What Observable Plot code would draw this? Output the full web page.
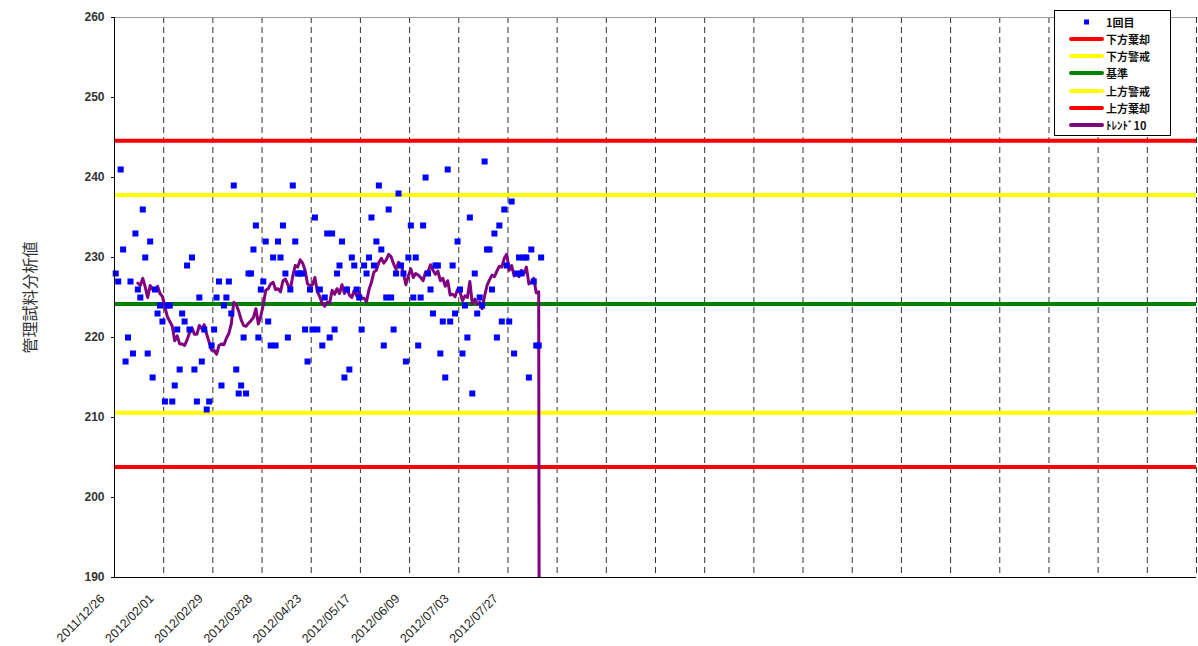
<!DOCTYPE html>
<html><head><meta charset="utf-8">
<script src="https://cdn.jsdelivr.net/npm/d3@7"></script>
<script src="https://cdn.jsdelivr.net/npm/@observablehq/plot@0.6"></script>
<style>
body{margin:0;background:#fff;font-family:"Liberation Sans","Noto Sans CJK JP",sans-serif;}
#wrap{position:relative;width:1198px;height:646px;overflow:hidden;}
#legend{position:absolute;left:1054px;top:10px;width:117px;height:126px;border:1px solid #000;background:#fff;box-sizing:border-box;}
.row{position:absolute;left:0;height:17px;display:flex;align-items:center;font-size:11px;font-weight:600;font-family:"Noto Sans CJK JP","Liberation Sans",sans-serif;color:#111;}
.row svg{margin-left:14px;margin-right:2px;}
</style></head><body>
<div id="wrap"><div id="chart"></div><div id="legend"></div></div>
<script>
// x tick labels (one every 20 measurements)
const dateLabels = ["2011/12/26","2012/02/01","2012/02/29","2012/03/28","2012/04/23","2012/05/17","2012/06/09","2012/07/03","2012/07/27"];
// 1回目 measured values, in order
const values = [
  228,227,241,231,217,220,227,218,233,226,
  225,236,230,218,232,215,226,223,224,222,
  212,224,224,212,214,221,216,223,222,229,
  221,230,216,212,225,217,221,211,212,219,
  221,225,227,214,224,225,227,223,239,216,
  213,214,220,213,228,228,231,234,220,226,
  227,232,222,219,230,219,232,230,234,228,
  220,226,239,232,228,228,228,221,217,226,
  221,235,221,226,219,225,233,220,233,221,
  228,229,232,215,226,216,230,229,226,225,
  221,229,228,230,235,229,232,239,231,219,
  225,236,225,221,228,238,229,228,217,230,
  234,225,230,219,225,234,240,228,226,223,
  229,229,218,222,215,241,222,229,223,232,
  226,218,224,220,235,213,228,223,225,224,
  242,231,231,226,233,220,234,222,236,229,
  222,237,218,228,230,228,230,230,215,231,
  227,219,219,230
];
// control limits
const limitNames = ["下方棄却","下方警戒","基準","上方警戒","上方棄却"];
const limitValues = [203.8, 210.6, 224.2, 237.8, 244.6];
const limitColors = ["#FF0000","#FFFF00","#008000","#FFFF00","#FF0000"];
const seriesName = "1回目";
const seriesColor = "#0000FF";
const trendName = "ﾄﾚﾝﾄﾞ10";
const trendColor = "#800080";
const trendWindow = 10;       // トレンド10 = 10-point moving average of 1回目
const trendLastValue = 0;     // last trend entry is plotted at 0 in the original
const yTicks = [190,200,210,220,230,240,250,260];
const yTitle = "管理試料分析値";
const categoriesPerTick = 20;
const categoryCount = 440;

const points = values.map((v, i) => ({i: i + 0.5, v}));
const trend = values.map((v, i) => ({
  i: i + 0.5,
  v: i < trendWindow - 1 ? NaN : d3.mean(values.slice(i - trendWindow + 1, i + 1))
}));
trend[trend.length - 1].v = trendLastValue;
const limits = limitNames.map((name, k) => ({name, value: limitValues[k], color: limitColors[k]}));
const gridX = d3.range(categoriesPerTick, categoryCount + 1, categoriesPerTick);
const xTickPos = dateLabels.map((_, k) => k * categoriesPerTick);

const chart = Plot.plot({
  width: 1198, height: 646,
  marginLeft: 114, marginRight: 2, marginTop: 17, marginBottom: 69,
  x: {domain: [0, categoryCount]},
  y: {domain: [190, 260]},
  style: {fontFamily: '"Liberation Sans","Noto Sans CJK JP",sans-serif', fontSize: "12px", color: "#000", background: "#fff"},
  marks: [
    Plot.ruleX(gridX, {stroke: "#333", strokeDasharray: "6,4", strokeWidth: 1}),
    Plot.ruleY([260], {stroke: "#999"}),
    Plot.ruleY(limits, {y: "value", stroke: "color", strokeWidth: 4}),
    Plot.lineY(trend, {x: "i", y: "v", stroke: trendColor, strokeWidth: 3, clip: true}),
    Plot.dot(points, {x: "i", y: "v", symbol: "square", fill: seriesColor, r: 3.4}),
    Plot.ruleX([0], {stroke: "#000"}),
    Plot.ruleY([190], {stroke: "#000"}),
    Plot.axisY({ticks: yTicks, tickSize: 3, tickPadding: 7, label: null, fontSize: 12, fontWeight: "bold", fill: "#333"}),
    Plot.axisX({ticks: xTickPos, tickFormat: d => dateLabels[d / categoriesPerTick], tickRotate: -45, tickSize: 0, tickPadding: 10, dx: -12, dy: 9, label: null, fontSize: 12.5, fill: "#222"}),
    Plot.text([yTitle], {frameAnchor: "left", dx: -84, rotate: -90, textAnchor: "middle", fontSize: 16, fill: "#333"})
  ]
});
document.getElementById("chart").appendChild(chart);

// legend
const legendItems = [{name: seriesName, color: seriesColor, marker: true}]
  .concat(limits.map(d => ({name: d.name, color: d.color})))
  .concat([{name: trendName, color: trendColor}]);
const lg = document.getElementById("legend");
legendItems.forEach((d, k) => {
  const row = document.createElement("div");
  row.className = "row";
  row.style.top = (2 + k * 17.3) + "px";
  const shape = d.marker
    ? `<rect x="15" y="1.5" width="5" height="5" fill="${d.color}"/>`
    : `<line x1="2" y1="4" x2="33" y2="4" stroke="${d.color}" stroke-width="4" stroke-linecap="round"/>`;
  row.innerHTML = `<svg width="35" height="8">${shape}</svg><span>${d.name}</span>`;
  lg.appendChild(row);
});
</script>
</body></html>
